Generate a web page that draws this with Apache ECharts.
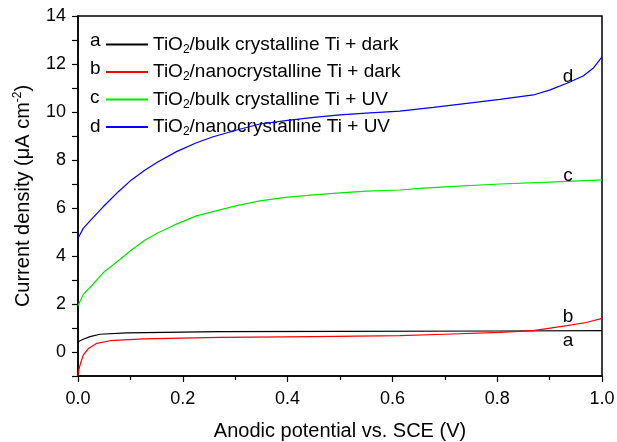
<!DOCTYPE html>
<html>
<head>
<meta charset="utf-8">
<script src="https://cdn.jsdelivr.net/npm/echarts@6/dist/echarts.min.js"></script>
<style>
  html, body { margin: 0; padding: 0; background: #fff; }
  #chart { width: 617px; height: 442px; }
</style>
</head>
<body>
<div id="chart"></div>
<script>
// values (potential in V, current in uA/cm2)
var xA = [0, 0.002, 0.01, 0.023, 0.042, 0.093, 0.27, 0.5, 0.8, 1.0];
var yA = [0.36, 0.45, 0.53, 0.64, 0.74, 0.8, 0.85, 0.86, 0.875, 0.89];

var xB = [0, 0.002, 0.005, 0.01, 0.02, 0.036, 0.061, 0.125, 0.27, 0.45, 0.614, 0.7, 0.805, 0.869, 0.933, 0.97, 1.0];
var yB = [-1.0, -0.7, -0.46, -0.13, 0.15, 0.36, 0.47, 0.55, 0.61, 0.64, 0.68, 0.74, 0.82, 0.89, 1.1, 1.23, 1.4];

var xC = [0, 0.01, 0.026, 0.048, 0.077, 0.102, 0.128, 0.153, 0.188, 0.226, 0.258, 0.303, 0.347, 0.4, 0.45, 0.5, 0.55, 0.614, 0.653, 0.7, 0.805, 0.9, 1.0];
var yC = [1.93, 2.4, 2.76, 3.3, 3.8, 4.25, 4.67, 4.97, 5.33, 5.67, 5.85, 6.1, 6.3, 6.45, 6.55, 6.63, 6.7, 6.75, 6.82, 6.88, 7.0, 7.08, 7.17];

var xD = [0, 0.01, 0.026, 0.048, 0.077, 0.102, 0.128, 0.153, 0.188, 0.226, 0.258, 0.303, 0.347, 0.4, 0.45, 0.5, 0.55, 0.614, 0.678, 0.742, 0.805, 0.869, 0.901, 0.933, 0.964, 0.983, 1.0];
var yD = [4.74, 5.15, 5.54, 6.05, 6.68, 7.17, 7.58, 7.93, 8.35, 8.72, 8.97, 9.25, 9.5, 9.65, 9.78, 9.88, 9.95, 10.04, 10.19, 10.36, 10.53, 10.71, 10.92, 11.2, 11.5, 11.82, 12.3];

var names = ['TiO2/bulk crystalline Ti + dark', 'TiO2/nanocrystalline Ti + dark',
             'TiO2/bulk crystalline Ti + UV', 'TiO2/nanocrystalline Ti + UV'];
var letters = ['a', 'b', 'c', 'd'];
var colors = ['#000000', '#ff0000', '#00e600', '#0000ff'];
// where the a-d tags sit next to the curves
var tagPos = [[0.935, 0.45], [0.935, 1.45], [0.935, 7.35], [0.935, 11.45]];

var FONT = 'Liberation Sans';

function pairs(xs, ys) {
    var out = [];
    for (var i = 0; i < xs.length; i++) out.push([xs[i], ys[i]]);
    return out;
}

var xs = [xA, xB, xC, xD];
var ys = [yA, yB, yC, yD];
var series = [];
for (var i = 0; i < 4; i++) {
    series.push({
        name: names[i],
        type: 'line',
        data: pairs(xs[i], ys[i]),
        showSymbol: false,
        smooth: false,
        lineStyle: { color: colors[i], width: 1.2 },
        itemStyle: { color: colors[i] },
        z: 2 + i,
        markPoint: {
            silent: true,
            symbol: 'circle',
            symbolSize: 1,
            itemStyle: { color: 'transparent' },
            label: {
                show: true, position: 'inside', formatter: letters[i],
                color: '#000', fontSize: 19, fontFamily: FONT
            },
            data: [{ coord: tagPos[i] }]
        }
    });
}

var chart = echarts.init(document.getElementById('chart'));
var option = {
    backgroundColor: '#fff',
    animation: false,
    grid: {
        left: 78, right: 15, top: 16, bottom: 66,
        outerBoundsMode: 'none',
        show: true, borderColor: '#000', borderWidth: 1.5
    },
    legend: {
        orient: 'vertical',
        left: 101, top: 30,
        itemWidth: 42, itemHeight: 2,
        itemGap: 7,
        icon: 'rect',
        data: names,
        formatter: function (n) { return n.replace('TiO2', 'TiO{s|2}'); },
        textStyle: {
            color: '#000', fontSize: 19, fontFamily: FONT,
            rich: { s: { fontSize: 12, fontFamily: FONT, color: '#000', padding: [10, 0, 0, 0] } }
        }
    },
    graphic: letters.map(function (l, i) {
        return {
            type: 'text', left: 90, top: 31 + i * 28.7,
            style: { text: l, fontSize: 19, fontFamily: FONT, fill: '#000' }
        };
    }),
    xAxis: {
        type: 'value', min: 0, max: 1, interval: 0.2,
        name: 'Anodic potential vs. SCE (V)',
        nameLocation: 'middle', nameGap: 45,
        nameTextStyle: { color: '#000', fontSize: 20, fontFamily: FONT },
        axisLine: { onZero: false, lineStyle: { color: '#000', width: 1.5 } },
        axisTick: { length: 6, lineStyle: { color: '#000', width: 1.2 } },
        minorTick: { show: true, splitNumber: 2, length: 4, lineStyle: { color: '#000', width: 1.2 } },
        axisLabel: {
            color: '#000', fontSize: 18, fontFamily: FONT, margin: 14,
            formatter: function (v) { return v.toFixed(1); }
        },
        splitLine: { show: false }
    },
    yAxis: {
        type: 'value', min: -1, max: 14, interval: 1,
        name: 'Current density (\u03bcA cm{sup|-2})',
        nameLocation: 'middle', nameGap: 44, nameRotate: 90,
        nameTextStyle: {
            color: '#000', fontSize: 20, fontFamily: FONT,
            rich: { sup: { fontSize: 12, fontFamily: FONT, color: '#000', padding: [0, 0, 10, 0] } }
        },
        axisLine: { onZero: false, lineStyle: { color: '#000', width: 1.5 } },
        axisTick: { length: 6, lineStyle: { color: '#000', width: 1.2 } },
        axisLabel: {
            color: '#000', fontSize: 18, fontFamily: FONT, margin: 12,
            formatter: function (v) { return (v % 2 === 0) ? String(v) : ''; }
        },
        splitLine: { show: false }
    },
    series: series
};
chart.setOption(option);
</script>
</body>
</html>
